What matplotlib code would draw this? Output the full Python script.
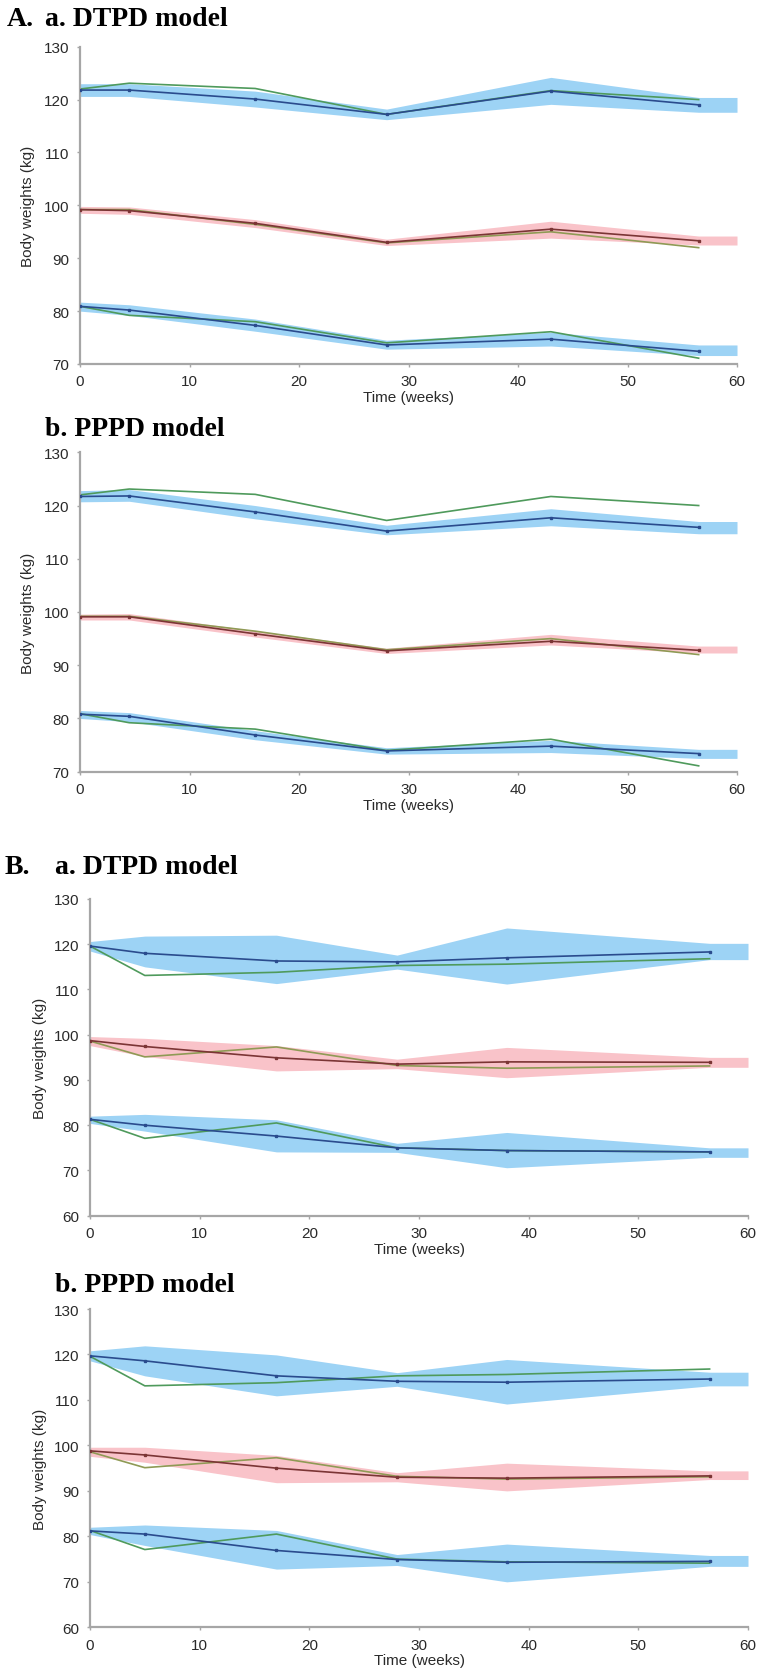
import numpy as np
import matplotlib
matplotlib.use("Agg")
import matplotlib.pyplot as plt

# time points (weeks)
t_A = [0, 4.5, 16, 28, 43, 56.5]
t_B = [0, 5, 17, 28, 38, 56.5]

# ---- A: observed body weights (same in both models)
obs_A_top = [122.0, 123.1, 122.1, 117.2, 121.7, 120.0]
obs_A_mid = [99.2, 99.2, 96.4, 92.9, 95.0, 92.0]
obs_A_bot = [80.9, 79.2, 78.0, 74.0, 76.1, 71.1]

# A.a DTPD predictions (median, lower, upper)
aa_top = [121.8, 121.8, 120.1, 117.2, 121.6, 119.0]
aa_top_lo = [120.6, 120.6, 118.6, 116.2, 119.1, 117.6]
aa_top_hi = [123.0, 123.0, 121.6, 118.2, 124.2, 120.4]
aa_mid = [99.2, 99.0, 96.6, 93.0, 95.5, 93.3]
aa_mid_lo = [98.5, 98.3, 95.8, 92.4, 93.8, 92.5]
aa_mid_hi = [99.8, 99.7, 97.3, 93.6, 97.0, 94.2]
aa_bot = [80.9, 80.2, 77.3, 73.6, 74.7, 72.4]
aa_bot_lo = [80.0, 79.2, 76.2, 72.8, 73.4, 71.6]
aa_bot_hi = [81.7, 81.2, 78.5, 74.5, 76.0, 73.6]

# A.b PPPD predictions
ab_top = [121.7, 121.8, 118.8, 115.2, 117.7, 115.9]
ab_top_lo = [120.7, 120.8, 117.5, 114.5, 116.2, 114.7]
ab_top_hi = [122.8, 123.0, 120.0, 116.3, 119.4, 117.0]
ab_mid = [99.1, 99.1, 95.9, 92.7, 94.5, 92.8]
ab_mid_lo = [98.5, 98.5, 95.3, 92.2, 93.8, 92.3]
ab_mid_hi = [99.6, 99.7, 96.5, 93.2, 95.8, 93.6]
ab_bot = [80.8, 80.4, 76.9, 73.9, 74.8, 73.4]
ab_bot_lo = [80.0, 79.4, 76.0, 73.3, 73.6, 72.5]
ab_bot_hi = [81.5, 81.1, 77.7, 74.5, 75.9, 74.2]

# ---- B: observed body weights
obs_B_top = [119.6, 113.1, 113.8, 115.3, 115.6, 116.8]
obs_B_mid = [98.6, 95.1, 97.3, 93.2, 92.6, 93.1]
obs_B_bot = [81.3, 77.1, 80.5, 75.0, 74.4, 74.1]

# B.a DTPD predictions
ba_top = [119.6, 118.0, 116.3, 116.1, 117.0, 118.3]
ba_top_lo = [118.5, 115.0, 111.3, 114.5, 111.2, 116.6]
ba_top_hi = [120.6, 121.8, 122.0, 117.6, 123.6, 120.2]
ba_mid = [98.7, 97.4, 94.9, 93.5, 94.0, 93.9]
ba_mid_lo = [97.6, 95.2, 92.0, 92.5, 90.5, 92.8]
ba_mid_hi = [99.6, 99.2, 97.6, 94.6, 97.2, 95.0]
ba_bot = [81.3, 80.0, 77.6, 75.0, 74.4, 74.1]
ba_bot_lo = [80.4, 78.7, 74.1, 74.0, 70.6, 72.9]
ba_bot_hi = [82.0, 82.4, 81.2, 76.0, 78.4, 75.0]

# B.b PPPD predictions
bb_top = [119.7, 118.6, 115.3, 114.1, 113.9, 114.6]
bb_top_lo = [118.6, 115.3, 110.9, 113.0, 109.1, 113.1]
bb_top_hi = [120.8, 121.9, 119.9, 116.0, 118.9, 116.1]
bb_mid = [98.8, 97.9, 95.0, 93.0, 92.8, 93.3]
bb_mid_lo = [97.6, 96.3, 91.8, 92.0, 90.0, 92.5]
bb_mid_hi = [99.6, 99.6, 97.8, 94.0, 96.1, 94.4]
bb_bot = [81.2, 80.5, 76.9, 74.9, 74.3, 74.5]
bb_bot_lo = [80.4, 78.0, 72.8, 73.6, 70.0, 73.4]
bb_bot_hi = [82.0, 82.5, 81.3, 76.0, 78.3, 75.8]

BLUE_BAND = "#9dd3f5"
PINK_BAND = "#f9c3c9"
NAVY = "#2a4b8d"
BROWN = "#7b3535"
GREEN = "#4f9a5c"
OLIVE = "#8f9a55"
AXCOL = "#a6a6a6"

W, H = 764, 1674
fig = plt.figure(figsize=(W / 100, H / 100), dpi=100)


def px_axes(left, right, top, bottom):
    return fig.add_axes([left / W, 1 - bottom / H, (right - left) / W, (bottom - top) / H])


def draw_group(ax, t, obs, med, lo, hi, band, line, obs_col):
    tb = np.append(t, 60)
    ax.fill_between(tb, np.append(lo, lo[-1]), np.append(hi, hi[-1]),
                    color=band, lw=0, zorder=1)
    ax.plot(t, obs, color=obs_col, lw=1.2, zorder=2)
    ax.plot(t, med, color=line, lw=1.2, marker="s", ms=2, zorder=3)


def style(ax, ymin):
    ax.set_xlim(0, 60)
    ax.set_ylim(ymin, 130)
    ax.set_xticks(range(0, 61, 10))
    ax.set_yticks(range(ymin, 131, 10))
    for s in ["top", "right"]:
        ax.spines[s].set_visible(False)
    for s in ["left", "bottom"]:
        ax.spines[s].set_color(AXCOL)
        ax.spines[s].set_linewidth(1.6)
    ax.tick_params(direction="out", length=2.5, width=1, color=AXCOL,
                   labelsize=11, labelcolor="#2a2a2a", pad=5)
    for lab in ax.get_xticklabels() + ax.get_yticklabels():
        lab.set_fontfamily("Liberation Sans")
    ax.set_xlabel("Time (weeks)", fontsize=11, family="Liberation Sans",
                  color="#2a2a2a", labelpad=1)
    ax.set_ylabel("Body weights (kg)", fontsize=11, family="Liberation Sans",
                  color="#2a2a2a")
    ax.patch.set_alpha(0)


panels = [
    (px_axes(80, 737, 47.7, 365), t_A, obs_A_top, obs_A_mid, obs_A_bot,
     (aa_top, aa_top_lo, aa_top_hi), (aa_mid, aa_mid_lo, aa_mid_hi), (aa_bot, aa_bot_lo, aa_bot_hi), 70, -0.068),
    (px_axes(80, 737, 453.3, 772.7), t_A, obs_A_top, obs_A_mid, obs_A_bot,
     (ab_top, ab_top_lo, ab_top_hi), (ab_mid, ab_mid_lo, ab_mid_hi), (ab_bot, ab_bot_lo, ab_bot_hi), 70, -0.068),
    (px_axes(90, 748, 900, 1216.7), t_B, obs_B_top, obs_B_mid, obs_B_bot,
     (ba_top, ba_top_lo, ba_top_hi), (ba_mid, ba_mid_lo, ba_mid_hi), (ba_bot, ba_bot_lo, ba_bot_hi), 60, -0.065),
    (px_axes(90, 748, 1310, 1628.3), t_B, obs_B_top, obs_B_mid, obs_B_bot,
     (bb_top, bb_top_lo, bb_top_hi), (bb_mid, bb_mid_lo, bb_mid_hi), (bb_bot, bb_bot_lo, bb_bot_hi), 60, -0.065),
]

for ax, t, o_top, o_mid, o_bot, top, mid, bot, ymin, ylab_x in panels:
    draw_group(ax, t, o_top, *top, BLUE_BAND, NAVY, GREEN)
    draw_group(ax, t, o_mid, *mid, PINK_BAND, BROWN, OLIVE)
    draw_group(ax, t, o_bot, *bot, BLUE_BAND, NAVY, GREEN)
    style(ax, ymin)
    ax.yaxis.set_label_coords(ylab_x, 0.5)

# panel titles
tfont = dict(family="Liberation Serif", weight="bold", fontsize=20, va="baseline", ha="left")
fig.text(7 / W, 1 - 26 / H, "A.", **tfont)
fig.text(45 / W, 1 - 26 / H, "a. DTPD model", **tfont)
fig.text(45 / W, 1 - 436 / H, "b. PPPD model", **tfont)
fig.text(5 / W, 1 - 874 / H, "B.", **tfont)
fig.text(55 / W, 1 - 874 / H, "a. DTPD model", **tfont)
fig.text(55 / W, 1 - 1292 / H, "b. PPPD model", **tfont)

fig.savefig("out.png", dpi=100, facecolor="white")
